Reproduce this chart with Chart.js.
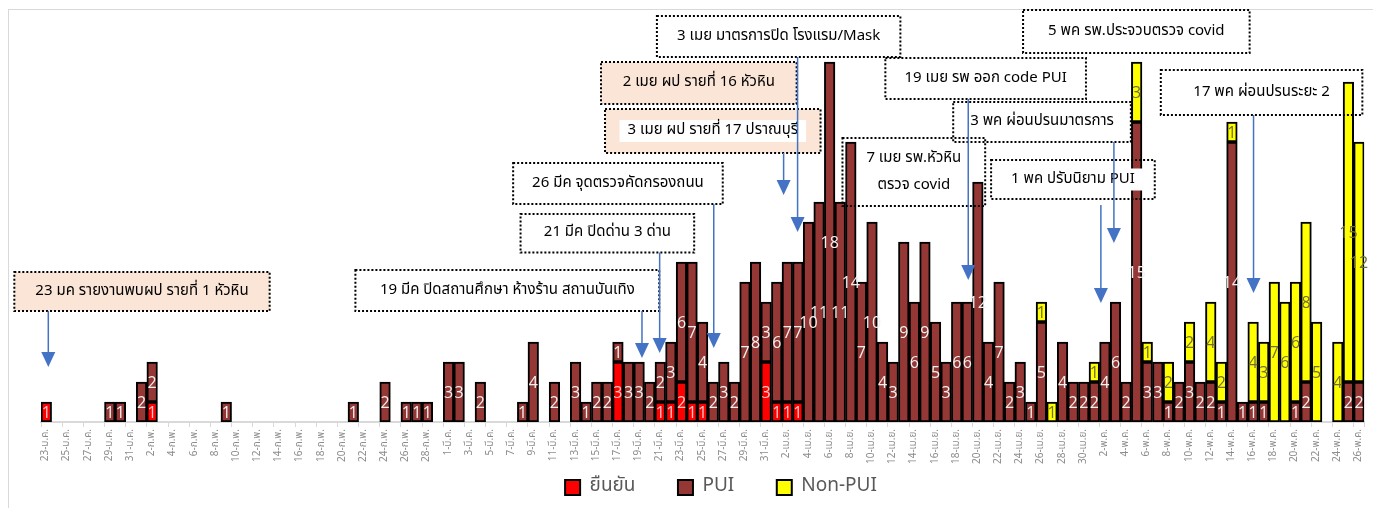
<!DOCTYPE html>
<html>
<head>
<meta charset="utf-8">
<script src="https://cdn.jsdelivr.net/npm/chart.js@4"></script>
<style>
  html, body { margin: 0; padding: 0; background: #fff; }
  canvas { display: block; }
</style>
</head>
<body>
<canvas id="covidChart" width="1373" height="508"></canvas>
<script>
// categories: one bar per day, 23 Jan - 26 May
var months = ['ม.ค.', 'ก.พ.', 'มี.ค.', 'เม.ย.', 'พ.ค.'];
var monthDays = [[23, 31], [1, 29], [1, 31], [1, 30], [1, 26]];
var categories = [];
monthDays.forEach(function (r, m) {
    for (var d = r[0]; d <= r[1]; d++) categories.push(d + '-' + months[m]);
});

var seriesNames = ['ยืนยัน', 'PUI', 'Non-PUI'];

// ยืนยัน
var confirmed = [
    [1, 0, 0, 0, 0, 0, 0, 0, 0],
    [0, 1, 0, 0, 0, 0, 0, 0, 0, 0, 0, 0, 0, 0, 0, 0, 0, 0, 0, 0, 0, 0, 0, 0, 0, 0, 0, 0, 0],
    [0, 0, 0, 0, 0, 0, 0, 0, 0, 0, 0, 0, 0, 0, 0, 0, 3, 0, 0, 0, 1, 1, 2, 1, 1, 0, 0, 0, 0, 0, 3],
    [1, 1, 1, 0, 0, 0, 0, 0, 0, 0, 0, 0, 0, 0, 0, 0, 0, 0, 0, 0, 0, 0, 0, 0, 0, 0, 0, 0, 0, 0],
    [0, 0, 0, 0, 0, 0, 0, 0, 0, 0, 0, 0, 0, 0, 0, 0, 0, 0, 0, 0, 0, 0, 0, 0, 0, 0]
].flat();

// PUI
var pui = [
    [0, 0, 0, 0, 0, 0, 1, 1, 0],
    [2, 2, 0, 0, 0, 0, 0, 0, 1, 0, 0, 0, 0, 0, 0, 0, 0, 0, 0, 0, 1, 0, 0, 2, 0, 1, 1, 1, 0],
    [3, 3, 0, 2, 0, 0, 0, 1, 4, 0, 2, 0, 3, 1, 2, 2, 1, 3, 3, 2, 2, 3, 6, 7, 4, 2, 3, 2, 7, 8, 3],
    [6, 7, 7, 10, 11, 18, 11, 14, 7, 10, 4, 3, 9, 6, 9, 5, 3, 6, 6, 12, 4, 7, 2, 3, 1, 5, 0, 4, 2, 2],
    [2, 4, 6, 2, 15, 3, 3, 1, 2, 3, 2, 2, 1, 14, 1, 1, 1, 0, 0, 1, 2, 0, 0, 0, 2, 2]
].flat();

// Non-PUI
var nonPui = [
    [0, 0, 0, 0, 0, 0, 0, 0, 0],
    [0, 0, 0, 0, 0, 0, 0, 0, 0, 0, 0, 0, 0, 0, 0, 0, 0, 0, 0, 0, 0, 0, 0, 0, 0, 0, 0, 0, 0],
    [0, 0, 0, 0, 0, 0, 0, 0, 0, 0, 0, 0, 0, 0, 0, 0, 0, 0, 0, 0, 0, 0, 0, 0, 0, 0, 0, 0, 0, 0, 0],
    [0, 0, 0, 0, 0, 0, 0, 0, 0, 0, 0, 0, 0, 0, 0, 0, 0, 0, 0, 0, 0, 0, 0, 0, 0, 1, 1, 0, 0, 0],
    [1, 0, 0, 0, 3, 1, 0, 2, 0, 2, 0, 4, 2, 1, 0, 4, 3, 7, 6, 6, 8, 5, 0, 4, 15, 12]
].flat();

// callouts: x in day index, y in case counts
var notes = [
    { text: ['23 มค รายงานพบผป รายที่ 1 หัวหิน'], x0: -3.02, x1: 21.1, top: 7.5, bottom: 5.55, fill: '#FBE5D6', arrow: 0.19, tip: 2.75 },
    { text: ['19 มีค ปิดสถานศึกษา ห้างร้าน สถานบันเทิง'], x0: 29.2, x1: 57.9, top: 7.6, bottom: 5.55, arrow: 56.27, tip: 3.2 },
    { text: ['21 มีค ปิดด่าน 3 ด่าน'], x0: 44.8, x1: 61.2, top: 10.4, bottom: 8.47, arrow: 57.94, tip: 3.45 },
    { text: ['26 มีค จุดตรวจคัดกรองถนน'], x0: 44.1, x1: 63.9, top: 12.95, bottom: 10.9, arrow: 63.05, tip: 3.7 },
    { text: ['2 เมย ผป รายที่ 16 หัวหิน'], x0: 52.4, x1: 70.88, top: 18.0, bottom: 15.9, fill: '#FBE5D6' },
    { text: ['3 เมย ผป รายที่ 17 ปราณบุรี'], x0: 52.78, x1: 73.14, top: 15.65, bottom: 13.45, fill: '#FBE5D6', textBg: true, arrow: 69.65, tip: 11.35 },
    { text: ['3 เมย มาตรการปิด โรงแรม/Mask'], x0: 57.68, x1: 80.68, top: 20.3, bottom: 18.25, arrow: 70.97, tip: 9.5 },
    { text: ['7 เมย รพ.หัวหิน', 'ตรวจ covid'], x0: 75.21, x1: 88.69, top: 14.2, bottom: 10.8 },
    { text: ['19 เมย รพ ออก code PUI'], x0: 79.26, x1: 98.21, top: 18.2, bottom: 16.15, arrow: 87.09, tip: 7.1 },
    { text: ['3 พค ผ่อนปรนมาตรการ'], x0: 85.67, x1: 102.45, top: 16.0, bottom: 14.0, arrow: 100.85, tip: 8.95 },
    { text: ['1 พค ปรับนิยาม PUI'], x0: 89.25, x1: 104.71, top: 13.1, bottom: 11.15, textBg: true, arrow: 99.62, from: 10.85, tip: 5.95 },
    { text: ['5 พค รพ.ประจวบตรวจ covid'], x0: 92.27, x1: 113.67, top: 20.6, bottom: 18.45 },
    { text: ['17 พค ผ่อนปรนระยะ 2'], x0: 105.28, x1: 124.32, top: 17.6, bottom: 15.35, arrow: 114.04, tip: 6.45 }
];

var thaiFont = "'Noto Sans Thai', Tahoma, 'Noto Sans', 'DejaVu Sans', sans-serif";
var labelColors = ['#ffc4c4', '#f2f2f2', '#6e6e3c'];

// value labels in the middle of every segment
var barLabels = {
    id: 'barLabels',
    afterDatasetsDraw: function (chart) {
        var ctx = chart.ctx;
        ctx.save();
        ctx.font = "16px 'Open Sans', sans-serif";
        ctx.textAlign = 'center';
        ctx.textBaseline = 'middle';
        chart.data.datasets.forEach(function (ds, di) {
            chart.getDatasetMeta(di).data.forEach(function (bar, i) {
                var v = ds.data[i];
                if (!v) return;
                ctx.fillStyle = labelColors[di];
                ctx.fillText(v, bar.x, (bar.y + bar.base) / 2 + 1);
            });
        });
        ctx.restore();
    }
};

// dotted callout boxes and blue arrows
var callouts = {
    id: 'callouts',
    afterLayout: function (chart) {
        // legend sits a little right of centre in the original
        chart.legend.left += 34;
    },
    beforeDraw: function (chart) {
        var ctx = chart.ctx;
        ctx.save();
        ctx.strokeStyle = '#d9d9d9';
        ctx.lineWidth = 1;
        ctx.strokeRect(8.5, 9.5, 1400, 600);
        ctx.restore();
    },
    afterDraw: function (chart) {
        var ctx = chart.ctx, xs = chart.scales.x, ys = chart.scales.y;
        ctx.save();
        ctx.font = '15px ' + thaiFont;
        ctx.textAlign = 'center';
        ctx.textBaseline = 'middle';
        notes.forEach(function (n) {
            var l = xs.getPixelForValue(n.x0), r = xs.getPixelForValue(n.x1);
            var t = ys.getPixelForValue(n.top), b = ys.getPixelForValue(n.bottom);
            if (n.fill) {
                ctx.fillStyle = n.fill;
                ctx.fillRect(l, t, r - l, b - t);
            }
            ctx.setLineDash([2, 2]);
            ctx.lineWidth = 2;
            ctx.strokeStyle = '#000';
            ctx.strokeRect(l, t, r - l, b - t);
            ctx.setLineDash([]);
            var cx = (l + r) / 2, cy = (t + b) / 2, lh = 27;
            n.text.forEach(function (line, k) {
                var y = cy + (k - (n.text.length - 1) / 2) * lh;
                if (n.textBg) {
                    var w = ctx.measureText(line).width;
                    ctx.fillStyle = '#fff';
                    ctx.fillRect(cx - w / 2 - 8, y - 11, w + 16, 22);
                }
                ctx.fillStyle = '#000';
                ctx.fillText(line, cx, y);
            });
        });
        notes.forEach(function (n) {
            if (n.arrow === undefined) return;
            var x = xs.getPixelForValue(n.arrow);
            var y0 = ys.getPixelForValue(n.from !== undefined ? n.from : n.bottom);
            var y1 = ys.getPixelForValue(n.tip);
            ctx.strokeStyle = '#4472C4';
            ctx.fillStyle = '#4472C4';
            ctx.lineWidth = 1.5;
            ctx.beginPath();
            ctx.moveTo(x, y0);
            ctx.lineTo(x, y1 - 12);
            ctx.stroke();
            ctx.beginPath();
            ctx.moveTo(x - 7, y1 - 15);
            ctx.lineTo(x + 7, y1 - 15);
            ctx.lineTo(x, y1);
            ctx.closePath();
            ctx.fill();
        });
        ctx.restore();
    }
};

var ctx = document.getElementById('covidChart').getContext('2d');
var chart = new Chart(ctx, {
    type: 'bar',
    data: {
        labels: categories,
        datasets: [{
            label: seriesNames[0],
            data: confirmed.map(function (v) { return v || null; }),
            backgroundColor: '#FF0000'
        }, {
            label: seriesNames[1],
            data: pui.map(function (v) { return v || null; }),
            backgroundColor: '#953735'
        }, {
            label: seriesNames[2],
            data: nonPui.map(function (v) { return v || null; }),
            backgroundColor: '#FFFF00'
        }]
    },
    options: {
        responsive: false,
        animation: false,
        devicePixelRatio: 1,
        layout: { padding: { top: 22, left: 41, right: 6, bottom: 1 } },
        datasets: {
            bar: {
                borderColor: '#000',
                borderWidth: 2,
                borderSkipped: false,
                barPercentage: 1,
                categoryPercentage: 1
            }
        },
        scales: {
            x: {
                stacked: true,
                offset: true,
                grid: {
                    drawOnChartArea: false,
                    tickLength: 5,
                    color: function (c) { return c.index % 2 ? 'rgba(0,0,0,0)' : '#d9d9d9'; }
                },
                border: { color: '#d9d9d9', width: 2 },
                ticks: {
                    autoSkip: false,
                    minRotation: 90,
                    maxRotation: 90,
                    padding: 2,
                    color: '#8c8c8c',
                    font: { size: 10, family: thaiFont },
                    callback: function (v, i) { return i % 2 ? '' : categories[i]; }
                },
                afterFit: function (s) { s.height = 42; }
            },
            y: {
                stacked: true,
                display: false,
                min: 0,
                max: 20
            }
        },
        plugins: {
            legend: {
                position: 'bottom',
                labels: {
                    boxWidth: 15,
                    boxHeight: 15,
                    padding: 14,
                    color: '#595959',
                    font: { size: 19, family: thaiFont },
                    generateLabels: function (chart) {
                        var items = Chart.defaults.plugins.legend.labels.generateLabels(chart);
                        items.forEach(function (it, i) {
                            if (i < items.length - 1) it.text += '\u2002\u2002\u2002';
                        });
                        return items;
                    }
                }
            },
            tooltip: { enabled: false }
        }
    },
    plugins: [barLabels, callouts]
});
</script>
</body>
</html>
